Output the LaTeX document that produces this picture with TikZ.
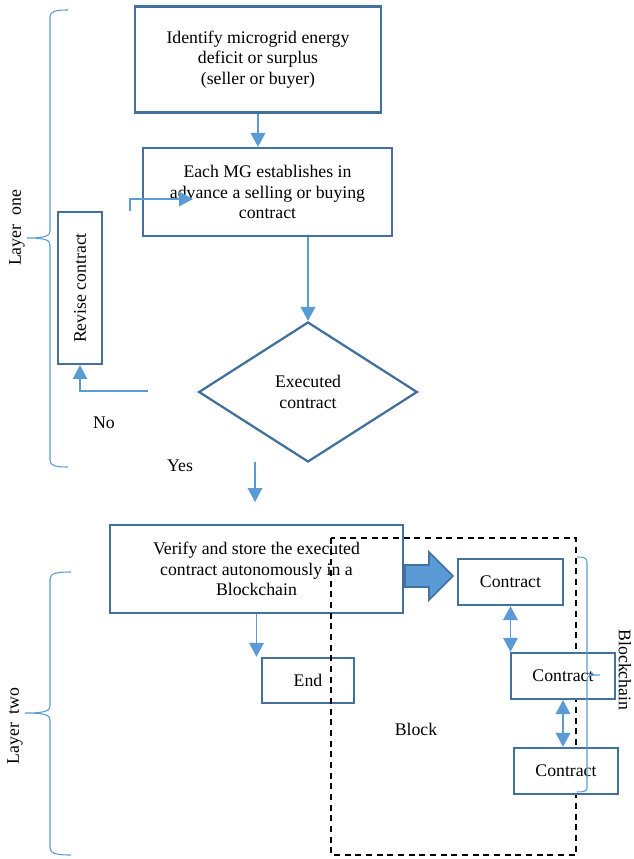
\documentclass[tikz,border=0pt]{standalone}
\usepackage{fontspec}
\setmainfont{Liberation Serif}
\usetikzlibrary{arrows.meta,shapes.geometric}

\definecolor{boxblue}{RGB}{65,113,156}
\definecolor{lineblue}{RGB}{91,155,213}

\begin{document}
\begin{tikzpicture}[x=0.75pt,y=-0.75pt,
  every node/.style={font=\fontsize{13.3pt}{15.4pt}\selectfont},
  box/.style={draw=boxblue,line width=1.7pt,fill=white,align=center,inner sep=2pt},
  flow/.style={draw=lineblue,line width=1pt,-{Triangle[width=11pt,length=10.5pt]}},
  link/.style={draw=lineblue,line width=1pt,{Triangle[width=11pt,length=10.5pt]}-{Triangle[width=11pt,length=10.5pt]}},
  bigarrow/.style={draw=boxblue,line width=1.2pt,fill=lineblue},
  brace/.style={draw=lineblue,line width=0.8pt}]

  \useasboundingbox (0,0) rectangle (634,859);

  \node[box,minimum width=184.5pt,minimum height=79.5pt] (ident) at (258,59.5) {Identify microgrid energy\\deficit or surplus\\(seller or buyer)};
  \node[box,minimum width=186.75pt,minimum height=66pt] (est) at (267.5,192) {Each MG establishes in\\advance a selling or buying\\contract};
  \node[box,rotate=90,minimum width=114pt,minimum height=33pt] (revise) at (80,288) {Revise contract};
  \node[box,diamond,aspect=1.56,minimum width=164pt,minimum height=105pt,inner sep=0pt] (exec) at (308,392) {Executed\\contract};
  \node (no) at (104,423) {No};
  \node (yes) at (180,466) {Yes};
  \node[box,minimum width=219.75pt,minimum height=66pt] (verify) at (256.5,569) {Verify and store the executed\\contract autonomously in a\\Blockchain};
  \node[box,minimum width=69pt,minimum height=33.75pt] (end) at (308,680.5) {End};

  \draw[black,line width=1.2pt,dash pattern=on 4.5pt off 3.5pt] (331,538) rectangle (576,855);
  \node (block) at (416,729) {Block};

  \node[box,minimum width=78.75pt,minimum height=34.5pt] (c1) at (510.5,582) {Contract};
  \node[box,minimum width=78pt,minimum height=34.5pt] (c2) at (563,676) {Contract};
  \node[box,minimum width=78pt,minimum height=34.5pt] (c3) at (566,771) {Contract};

  \draw[flow] (ident.south) -- (ident.south |- est.north);
  \coordinate (r1) at (130,211); \coordinate (r2) at (193,199);
  \draw[flow] (r1) |- (r2);
  \draw[flow] (exec.north |- est.south) -- (exec.north);
  \coordinate (n1) at (148,391);
  \draw[flow] (n1) -| (revise.west);
  \coordinate (y1) at (255,462); \coordinate (y2) at (255,502);
  \draw[flow] (y1) -- (y2);
  \draw[flow] (verify.south) -- (verify.south |- end.north);

  \draw[bigarrow] (405,565) -- (429,565) -- (429,552) -- (453,576) -- (429,600) -- (429,587) -- (405,587) -- cycle;
  \draw[link] (c1.south) -- (c1.south |- c2.north);
  \draw[link] (c2.south) -- (c2.south |- c3.north);

  \draw[brace] (68,10) .. controls (56,10) and (50,11) .. (50,17) -- (50,231) .. controls (50,236) and (45,238) .. (27,238)
    .. controls (45,238) and (50,240) .. (50,245) -- (50,460) .. controls (50,466) and (56,467) .. (68,467);
  \draw[brace] (71,572) .. controls (58,572) and (50,573) .. (50,579) -- (50,706) .. controls (50,711) and (45,713) .. (25,713)
    .. controls (45,713) and (50,715) .. (50,720) -- (50,848) .. controls (50,854) and (58,855) .. (71,855);
  \draw[brace] (577,557) .. controls (584,557) and (587,558) .. (587,562) -- (587,671) .. controls (587,674) and (590,675) .. (600,675)
    .. controls (590,675) and (587,676) .. (587,679) -- (587,788) .. controls (587,791) and (584,792) .. (577,792);

  \node[rotate=90] (layer1) at (17,228) {Layer~~one};
  \node[rotate=90] (layer2) at (15,726) {Layer~~two};
  \node[rotate=-90,inner sep=0pt] (chain) at (625,670) {Blockchain};

\end{tikzpicture}
\end{document}
